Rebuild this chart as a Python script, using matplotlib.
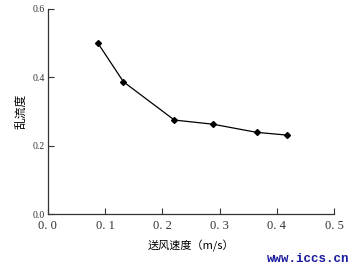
import matplotlib
matplotlib.use("Agg")
import matplotlib.pyplot as plt

# air supply velocity (m/s) vs turbulence intensity
speed = [0.087, 0.132, 0.221, 0.288, 0.365, 0.418]
turbulence = [0.501, 0.387, 0.275, 0.263, 0.239, 0.231]

x_ticks = [0.0, 0.1, 0.2, 0.3, 0.4, 0.5]
x_labels = ["0. 0", "0. 1", "0. 2", "0. 3", "0. 4", "0. 5"]
y_ticks = [0.0, 0.2, 0.4, 0.6]
y_labels = ["0.0", "0.2", "0.4", "0.6"]

plt.rcParams['font.family'] = ['Liberation Serif', 'Noto Sans CJK SC']

fig = plt.figure(figsize=(3.6, 2.72), dpi=100)
ax = fig.add_axes([0.133, 0.213, 0.795, 0.754])

ax.plot(speed, turbulence, color='black', linewidth=0.9,
        marker='D', markersize=3)

ax.set_xlim(0, 0.5)
ax.set_ylim(0, 0.6)
ax.set_xticks(x_ticks)
ax.set_xticklabels(x_labels, fontsize=9, color='#333333')
ax.set_yticks(y_ticks)
ax.set_yticklabels(y_labels, fontsize=7, color='#333333')
ax.tick_params(direction='in', length=4, width=0.8, colors='#333333')
ax.tick_params(axis='x', pad=4, labelcolor='#333333')
ax.tick_params(axis='y', pad=2, labelcolor='#333333')

for side in ['top', 'right']:
    ax.spines[side].set_visible(False)
for side in ['left', 'bottom']:
    ax.spines[side].set_linewidth(0.9)
    ax.spines[side].set_color('#333333')

ax.set_ylabel("乱流度", family='Noto Sans CJK SC', fontsize=8.5, labelpad=4)
ax.set_xlabel("送风速度（m/s）", family=['Noto Sans CJK SC'], fontsize=8, labelpad=6)

fig.text(0.97, 0.025, "www.iccs.cn", family='Liberation Mono', fontsize=9,
         fontweight='bold', color='#1a1aa0', ha='right', va='bottom')

fig.savefig("out.png", dpi=100)
